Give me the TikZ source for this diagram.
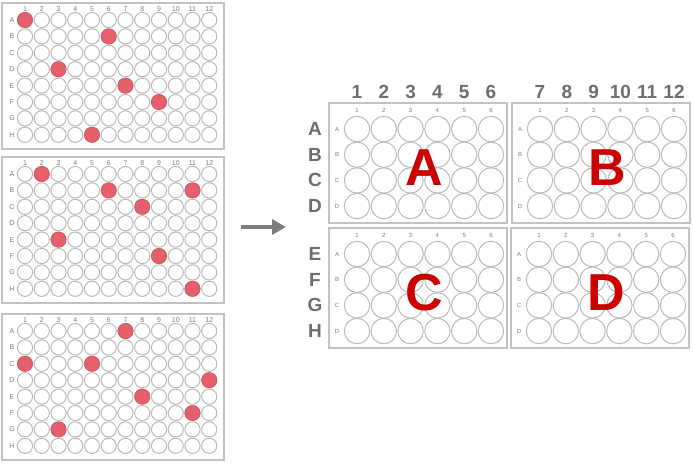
\documentclass[tikz,border=0pt]{standalone}
\usepackage{fontspec}
\setmainfont{Liberation Sans}
\usetikzlibrary{arrows.meta,positioning}

\definecolor{wellgray}{HTML}{BABABA}
\definecolor{framegray}{HTML}{C2C2C2}
\definecolor{labelgray}{HTML}{7C7C7C}
\definecolor{biggray}{HTML}{6E6E6E}
\definecolor{hitfill}{HTML}{E6606B}
\definecolor{hitdraw}{HTML}{D6505B}
\definecolor{quadred}{HTML}{CC0000}

% 96-well plate: name, left, top, hits (row/col)
\newcommand{\wellplate}[4]{
	\node[plate96] (#1) at ({#2+111},{#3+73}) {};
	\foreach \c in {1,...,12}
		\node[platenum] at ({#2+23+(\c-1)*16.75},{#3+6}) {\c};
	\foreach \r [count=\i from 0] in {A,...,H}{
		\node[platenum] at ({#2+10},{#3+17+\i*16.4}) {\r};
		\foreach \c in {1,...,12}
			\draw[well] ({#2+23+(\c-1)*16.75},{#3+17+\i*16.4}) circle (7.6);
	}
	\foreach \r/\c in {#4}
		\filldraw[hit] ({#2+23+(\c-1)*16.75},{#3+17+(\r-1)*16.4}) circle (7.6);
}

% 24-well quarter: name, left, top, letter
\newcommand{\quadplate}[4]{
	\node[plate24] (#1) at ({#2+89},{#3+60}) {};
	\foreach \c in {1,...,6}
		\node[quadnum] at ({#2+28+(\c-1)*26.8},{#3+7}) {\c};
	\foreach \r [count=\i from 0] in {A,...,D}{
		\node[quadnum] at ({#2+8},{#3+26+\i*25.7}) {\r};
		\foreach \c in {1,...,6}
			\draw[well] ({#2+28+(\c-1)*26.8},{#3+26+\i*25.7}) circle (12.7);
	}
	\node[quadletter] (#1-letter) at ({#2+95},{#3+64.5}) {#4};
}

\begin{document}
\begin{tikzpicture}[x=1pt, y=-1pt,
	plate96/.style={draw=framegray, line width=1.2pt, minimum width=222pt, minimum height=146pt, inner sep=0pt},
	plate24/.style={draw=framegray, line width=1.2pt, minimum width=178pt, minimum height=120pt, inner sep=0pt},
	well/.style={draw=wellgray, line width=1pt},
	hit/.style={fill=hitfill, draw=hitdraw, line width=0.6pt},
	platenum/.style={text=labelgray, inner sep=0pt, font=\fontsize{7}{7}\selectfont},
	quadnum/.style={text=labelgray, inner sep=0pt, font=\fontsize{6}{6}\selectfont},
	biglabel/.style={text=biggray, inner sep=0pt, font=\fontsize{19}{19}\selectfont\bfseries},
	quadletter/.style={text=quadred, inner sep=0pt, font=\fontsize{52}{52}\selectfont\bfseries},
	bigarrow/.style={draw=biggray!90, line width=4.5pt, -{Triangle[length=14pt, width=15pt]}}]
	\useasboundingbox (0,0) rectangle (693,467);

	% source plates
	\wellplate{p1}{2}{3}{1/1, 2/6, 4/3, 5/7, 6/9, 8/5}
	\wellplate{p2}{2}{157}{1/2, 2/6, 2/11, 3/8, 5/3, 6/9, 8/11}
	\wellplate{p3}{2}{314}{1/7, 3/1, 3/5, 4/12, 5/8, 6/11, 7/3}

	% arrow
	\coordinate (tail) at (241,227);
	\coordinate (tip) at (286,227);
	\draw[bigarrow] (tail) -- (tip);

	% target quarters
	\quadplate{qa}{329}{103}{A}
	\quadplate{qb}{512}{103}{B}
	\quadplate{qc}{329}{228}{C}
	\quadplate{qd}{511}{228}{D}

	\foreach \c in {1,...,6}
		\node[biglabel] at ({357+(\c-1)*26.8},92) {\c};
	\foreach \c [count=\i from 0] in {7,...,12}
		\node[biglabel] at ({540+\i*26.8},92) {\c};
	\foreach \r [count=\i from 0] in {A,...,D}
		\node[biglabel] at (315,{129+\i*25.7}) {\r};
	\foreach \r [count=\i from 0] in {E,...,H}
		\node[biglabel] at (315,{254+\i*25.7}) {\r};
\end{tikzpicture}
\end{document}
